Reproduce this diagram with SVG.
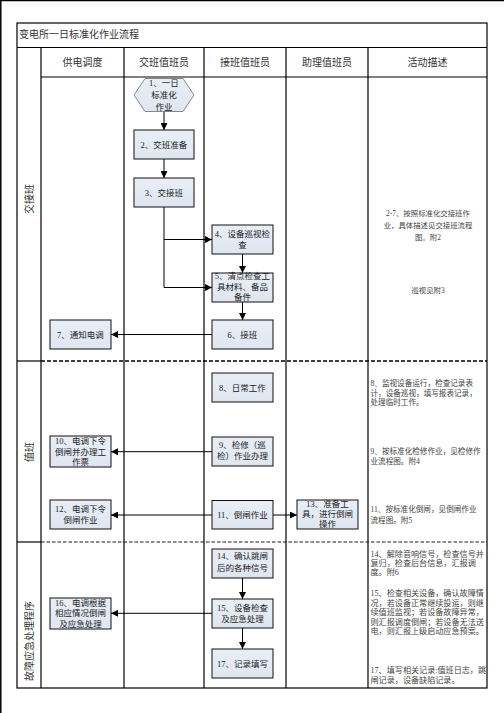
<svg xmlns="http://www.w3.org/2000/svg" width="504" height="713" viewBox="0 0 504 713">
<defs>
<marker id="ah" viewBox="0 0 8 8" refX="8" refY="4" markerWidth="7" markerHeight="7" markerUnits="userSpaceOnUse" orient="auto">
<path d="M0,0 L8,4 L0,8 Z" fill="#000"/>
</marker>
<linearGradient id="bg" x1="0" y1="0" x2="0" y2="1">
<stop offset="0" stop-color="#e9eef6"/>
<stop offset="1" stop-color="#dfe6f0"/>
</linearGradient>
</defs>
<style>
text{font-family:"Liberation Serif","Noto Sans CJK SC",serif;fill:#333}
.hd{font-size:10px;text-anchor:middle}
.nt{font-size:8.5px;text-anchor:middle;fill:#222}
.ds{font-size:7.6px;fill:#444}
.ds2{font-size:8.1px;fill:#444}
.dc{font-size:7.4px;fill:#444;text-anchor:middle}
.ln{stroke:#000;stroke-width:1.2;fill:none}
.box{fill:url(#bg);stroke:#111;stroke-width:1}
.cn{stroke:#000;stroke-width:1;fill:none}
</style>
<rect width="504" height="713" fill="#fff"/>
<line x1="0.8" y1="0" x2="0.8" y2="713" stroke="#000" stroke-width="1.5"/>
<line x1="0" y1="0.6" x2="504" y2="0.6" stroke="#000" stroke-width="1.2"/>

<g id="table">
<rect x="17" y="23" width="470" height="665" class="ln"/>
<line x1="17" y1="47.5" x2="487" y2="47.5" class="ln"/>
<line x1="41" y1="77" x2="487" y2="77" class="ln"/>
<line x1="41" y1="47.5" x2="41" y2="688" class="ln"/>
<line x1="124" y1="47.5" x2="124" y2="688" class="ln"/>
<line x1="204" y1="47.5" x2="204" y2="688" class="ln"/>
<line x1="286" y1="47.5" x2="286" y2="688" class="ln"/>
<line x1="368" y1="47.5" x2="368" y2="688" class="ln"/>
<line x1="17" y1="361" x2="41" y2="361" class="ln"/>
<line x1="17" y1="542" x2="41" y2="542" class="ln"/>
<line x1="41" y1="361" x2="487" y2="361" stroke="#000" stroke-width="1.6" stroke-dasharray="4,2"/>
<line x1="41" y1="542" x2="487" y2="542" stroke="#000" stroke-width="0.9" stroke-dasharray="3.5,2"/>
<text x="19" y="38" style="font-size:10px">变电所一日标准化作业流程</text>
<text x="82.5" y="65.5" class="hd">供电调度</text>
<text x="164" y="65.5" class="hd">交班值班员</text>
<text x="245" y="65.5" class="hd">接班值班员</text>
<text x="327" y="65.5" class="hd">助理值班员</text>
<text x="427.5" y="65.5" class="hd">活动描述</text>
<text transform="translate(32.5,199) rotate(-90)" class="hd">交接班</text>
<text transform="translate(32.5,452) rotate(-90)" class="hd">值班</text>
<text transform="translate(32.5,641) rotate(-90)" class="hd">故障应急处理程序</text>
</g>

<g id="connectors">
<line x1="164" y1="112" x2="164" y2="130" class="cn" marker-end="url(#ah)"/>
<line x1="164" y1="159" x2="164" y2="178" class="cn" marker-end="url(#ah)"/>
<path d="M164,207 V287.5 H212" class="cn" marker-end="url(#ah)"/>
<path d="M164,239.5 H212" class="cn" marker-end="url(#ah)"/>
<line x1="242.5" y1="254" x2="242.5" y2="273" class="cn" marker-end="url(#ah)"/>
<line x1="242.5" y1="302" x2="242.5" y2="320" class="cn" marker-end="url(#ah)"/>
<line x1="212" y1="334.5" x2="111" y2="334.5" class="cn" marker-end="url(#ah)"/>
<line x1="212" y1="451.7" x2="111" y2="451.7" class="cn" marker-end="url(#ah)"/>
<line x1="212" y1="515" x2="111" y2="515" class="cn" marker-end="url(#ah)"/>
<line x1="273" y1="515" x2="297" y2="515" class="cn" marker-end="url(#ah)"/>
<line x1="242.5" y1="578" x2="242.5" y2="599" class="cn" marker-end="url(#ah)"/>
<line x1="212" y1="613.3" x2="111" y2="613.3" class="cn" marker-end="url(#ah)"/>
<line x1="242.5" y1="628" x2="242.5" y2="649" class="cn" marker-end="url(#ah)"/>
</g>

<g id="n1">
<polygon points="134,95 145,78.5 183,78.5 194,95 183,111.5 145,111.5" fill="url(#bg)" stroke="#888" stroke-width="1"/>
<text class="nt"><tspan x="164" y="85.5">1、一日</tspan><tspan x="164" y="98">标准化</tspan><tspan x="164" y="109.5">作业</tspan></text>
</g>
<g id="n2"><rect x="134" y="130" width="60" height="29" class="box"/><text x="164" y="147.5" class="nt">2、交班准备</text></g>
<g id="n3"><rect x="134" y="178" width="60" height="29" class="box"/><text x="164" y="195.5" class="nt">3、交接班</text></g>
<g id="n4"><rect x="212" y="225" width="61" height="29" class="box"/><text class="nt"><tspan x="242.5" y="237.3">4、设备巡视检</tspan><tspan x="242.5" y="248">查</tspan></text></g>
<g id="n5"><rect x="212" y="273" width="61" height="29" class="box"/><text class="nt"><tspan x="242.5" y="279.3">5、清点检查工</tspan><tspan x="242.5" y="290.3">具材料、备品</tspan><tspan x="242.5" y="300.3">备件</tspan></text></g>
<g id="n6"><rect x="212" y="320" width="61" height="29" class="box"/><text x="242.5" y="337.5" class="nt">6、接班</text></g>
<g id="n7"><rect x="50" y="320" width="61" height="29" class="box"/><text x="80.5" y="337.5" class="nt">7、通知电调</text></g>
<g id="n8"><rect x="212" y="373" width="61" height="29" class="box"/><text x="242.5" y="390.5" class="nt">8、日常工作</text></g>
<g id="n9"><rect x="212" y="437" width="61" height="29" class="box"/><text class="nt"><tspan x="242.5" y="448">9、检修（巡</tspan><tspan x="242.5" y="459">检）作业办理</tspan></text></g>
<g id="n10"><rect x="50" y="436" width="61" height="31" class="box"/><text class="nt"><tspan x="80.5" y="443.7">10、电调下令</tspan><tspan x="80.5" y="454.7">倒闸并办理工</tspan><tspan x="80.5" y="465.3">作票</tspan></text></g>
<g id="n11"><rect x="212" y="500.5" width="61" height="28.5" class="box"/><text x="242.5" y="518" class="nt">11、倒闸作业</text></g>
<g id="n12"><rect x="50" y="500" width="61" height="29" class="box"/><text class="nt"><tspan x="80.5" y="512">12、电调下令</tspan><tspan x="80.5" y="523">倒闸作业</tspan></text></g>
<g id="n13"><rect x="297" y="500" width="61" height="29" class="box"/><text class="nt"><tspan x="327.5" y="507">13、准备工</tspan><tspan x="327.5" y="517.3">具，进行倒闸</tspan><tspan x="327.5" y="527.3">操作</tspan></text></g>
<g id="n14"><rect x="212" y="549" width="61" height="29" class="box"/><text class="nt"><tspan x="242.5" y="559">14、确认跳闸</tspan><tspan x="242.5" y="571.3">后的各种信号</tspan></text></g>
<g id="n15"><rect x="212" y="599" width="61" height="29" class="box"/><text class="nt"><tspan x="242.5" y="611.3">15、设备检查</tspan><tspan x="242.5" y="622.3">及应急处理</tspan></text></g>
<g id="n16"><rect x="50" y="598" width="61" height="31" class="box"/><text class="nt"><tspan x="80.5" y="605.7">16、电调根据</tspan><tspan x="80.5" y="616.3">相应情况倒闸</tspan><tspan x="80.5" y="627.3">及应急处理</tspan></text></g>
<g id="n17"><rect x="212" y="649" width="61" height="29" class="box"/><text x="242.5" y="666.5" class="nt">17、记录填写</text></g>

<g id="descriptions">
<text class="dc"><tspan x="428" y="216">2-7、按照标准化交接班作</tspan><tspan x="428" y="228">业，具体描述见交接班流程</tspan><tspan x="428" y="240">图。附2</tspan></text>
<text x="428" y="293" class="dc">巡视见附3</text>
<text class="ds"><tspan x="370.5" y="386">8、监视设备运行，检查记录表</tspan><tspan x="370.5" y="395.5">计，设备巡视，填写报表记录，</tspan><tspan x="370.5" y="404.5">处理临时工作。</tspan></text>
<text class="ds"><tspan x="370.5" y="453.5">9、按标准化检修作业，见检修作</tspan><tspan x="370.5" y="464">业流程图。附4</tspan></text>
<text class="ds"><tspan x="370.5" y="512">11、按标准化倒闸，见倒闸作业</tspan><tspan x="370.5" y="523">流程图。附5</tspan></text>
<text class="ds2"><tspan x="370.5" y="557">14、解除音响信号，检查信号并</tspan><tspan x="370.5" y="566.3">复归，检查后台信息，汇报调</tspan><tspan x="370.5" y="575.3">度。附6</tspan></text>
<text class="ds2"><tspan x="370.5" y="595.7">15、检查相关设备，确认故障情</tspan><tspan x="370.5" y="605.5">况，若设备正常继续投运，则继</tspan><tspan x="370.5" y="615">续值班监视；若设备故障异常，</tspan><tspan x="370.5" y="624.7">则汇报调度倒闸；若设备无法送</tspan><tspan x="370.5" y="634">电，则汇报上级启动应急预案。</tspan></text>
<text class="ds2"><tspan x="370.5" y="673.3">17、填写相关记录:值班日志，跳</tspan><tspan x="370.5" y="683">闸记录，设备缺陷记录。</tspan></text>
</g>
</svg>
